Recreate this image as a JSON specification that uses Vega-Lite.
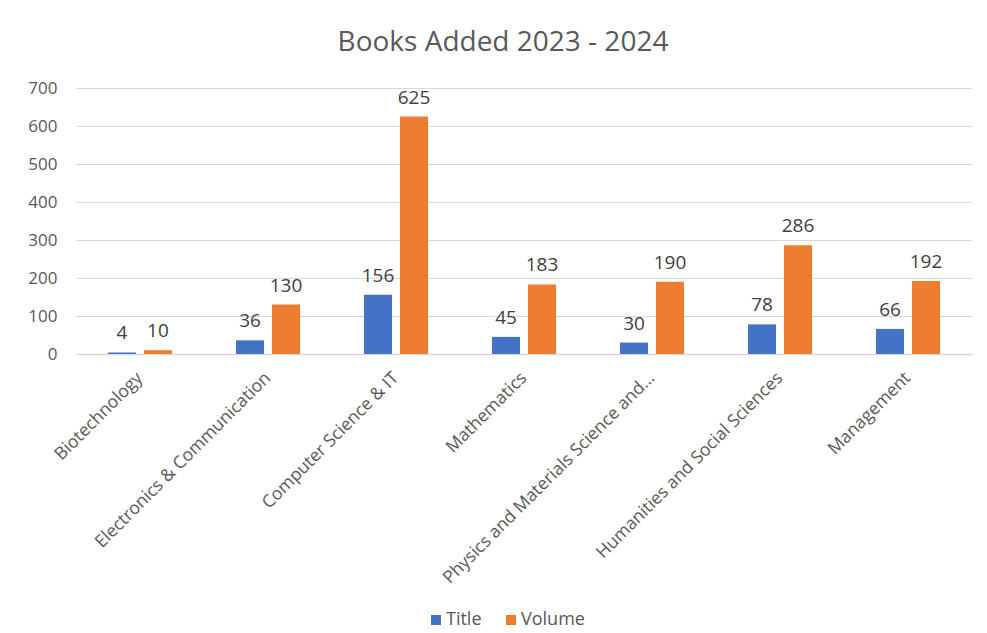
{
  "$schema": "https://vega.github.io/schema/vega-lite/v6.json",
  "autosize": {"type": "none"},
  "padding": {"left": 76, "top": 88, "right": 15, "bottom": 279},
  "width": 896,
  "height": 266,
  "background": "#ffffff",
  "config": {"view": {"stroke": null}},
  "title": {
    "text": "Books Added 2023 - 2024",
    "fontSize": 28,
    "font": "Open Sans",
    "fontWeight": "normal",
    "color": "#595959",
    "offset": 22,
    "dx": -21
  },
  "data": {
    "values": [
      {"category": "Biotechnology", "series": "Title", "value": 4},
      {"category": "Biotechnology", "series": "Volume", "value": 10},
      {"category": "Electronics & Communication", "series": "Title", "value": 36},
      {"category": "Electronics & Communication", "series": "Volume", "value": 130},
      {"category": "Computer Science & IT", "series": "Title", "value": 156},
      {"category": "Computer Science & IT", "series": "Volume", "value": 625},
      {"category": "Mathematics", "series": "Title", "value": 45},
      {"category": "Mathematics", "series": "Volume", "value": 183},
      {"category": "Physics and Materials Science and...", "series": "Title", "value": 30},
      {"category": "Physics and Materials Science and...", "series": "Volume", "value": 190},
      {"category": "Humanities and Social Sciences", "series": "Title", "value": 78},
      {"category": "Humanities and Social Sciences", "series": "Volume", "value": 286},
      {"category": "Management", "series": "Title", "value": 66},
      {"category": "Management", "series": "Volume", "value": 192}
    ]
  },
  "encoding": {
    "x": {
      "field": "category",
      "type": "nominal",
      "sort": null,
      "scale": {"paddingInner": 0.5, "paddingOuter": 0.25},
      "axis": {
        "title": null,
        "labelAngle": -45,
        "labelAlign": "right",
        "labelBaseline": "middle",
        "labelFontSize": 17.5,
        "labelFont": "Open Sans",
        "labelColor": "#595959",
        "labelPadding": 21,
        "labelLimit": 500,
        "ticks": false,
        "domainColor": "#d9d9d9",
        "domainWidth": 1.5
      }
    },
    "xOffset": {
      "field": "series",
      "type": "nominal",
      "scale": {"paddingInner": 0.22, "paddingOuter": 0}
    },
    "y": {
      "field": "value",
      "type": "quantitative",
      "scale": {"domain": [0, 700]},
      "axis": {
        "title": null,
        "values": [0, 100, 200, 300, 400, 500, 600, 700],
        "labelFontSize": 17,
        "labelFont": "Open Sans",
        "labelColor": "#595959",
        "labelPadding": 19,
        "ticks": false,
        "domain": false,
        "gridColor": "#d9d9d9",
        "gridWidth": 1.2
      }
    }
  },
  "layer": [
    {
      "mark": {"type": "bar"},
      "encoding": {
        "color": {
          "field": "series",
          "type": "nominal",
          "scale": {"domain": ["Title", "Volume"], "range": ["#4472C4", "#ED7D31"]},
          "legend": {
            "title": null,
            "orient": "none",
            "direction": "horizontal",
            "legendX": 351,
            "legendY": 523,
            "symbolType": "square",
            "symbolSize": 100,
            "symbolStrokeWidth": 0,
            "labelFontSize": 18,
            "labelFont": "Open Sans",
            "labelColor": "#595959",
            "labelOffset": 1,
            "columnPadding": 20
          }
        }
      }
    },
    {
      "mark": {"type": "text", "baseline": "alphabetic", "dy": -13, "fontSize": 19, "font": "Open Sans", "color": "#404040"},
      "encoding": {
        "text": {"field": "value", "type": "quantitative"}
      }
    }
  ]
}
